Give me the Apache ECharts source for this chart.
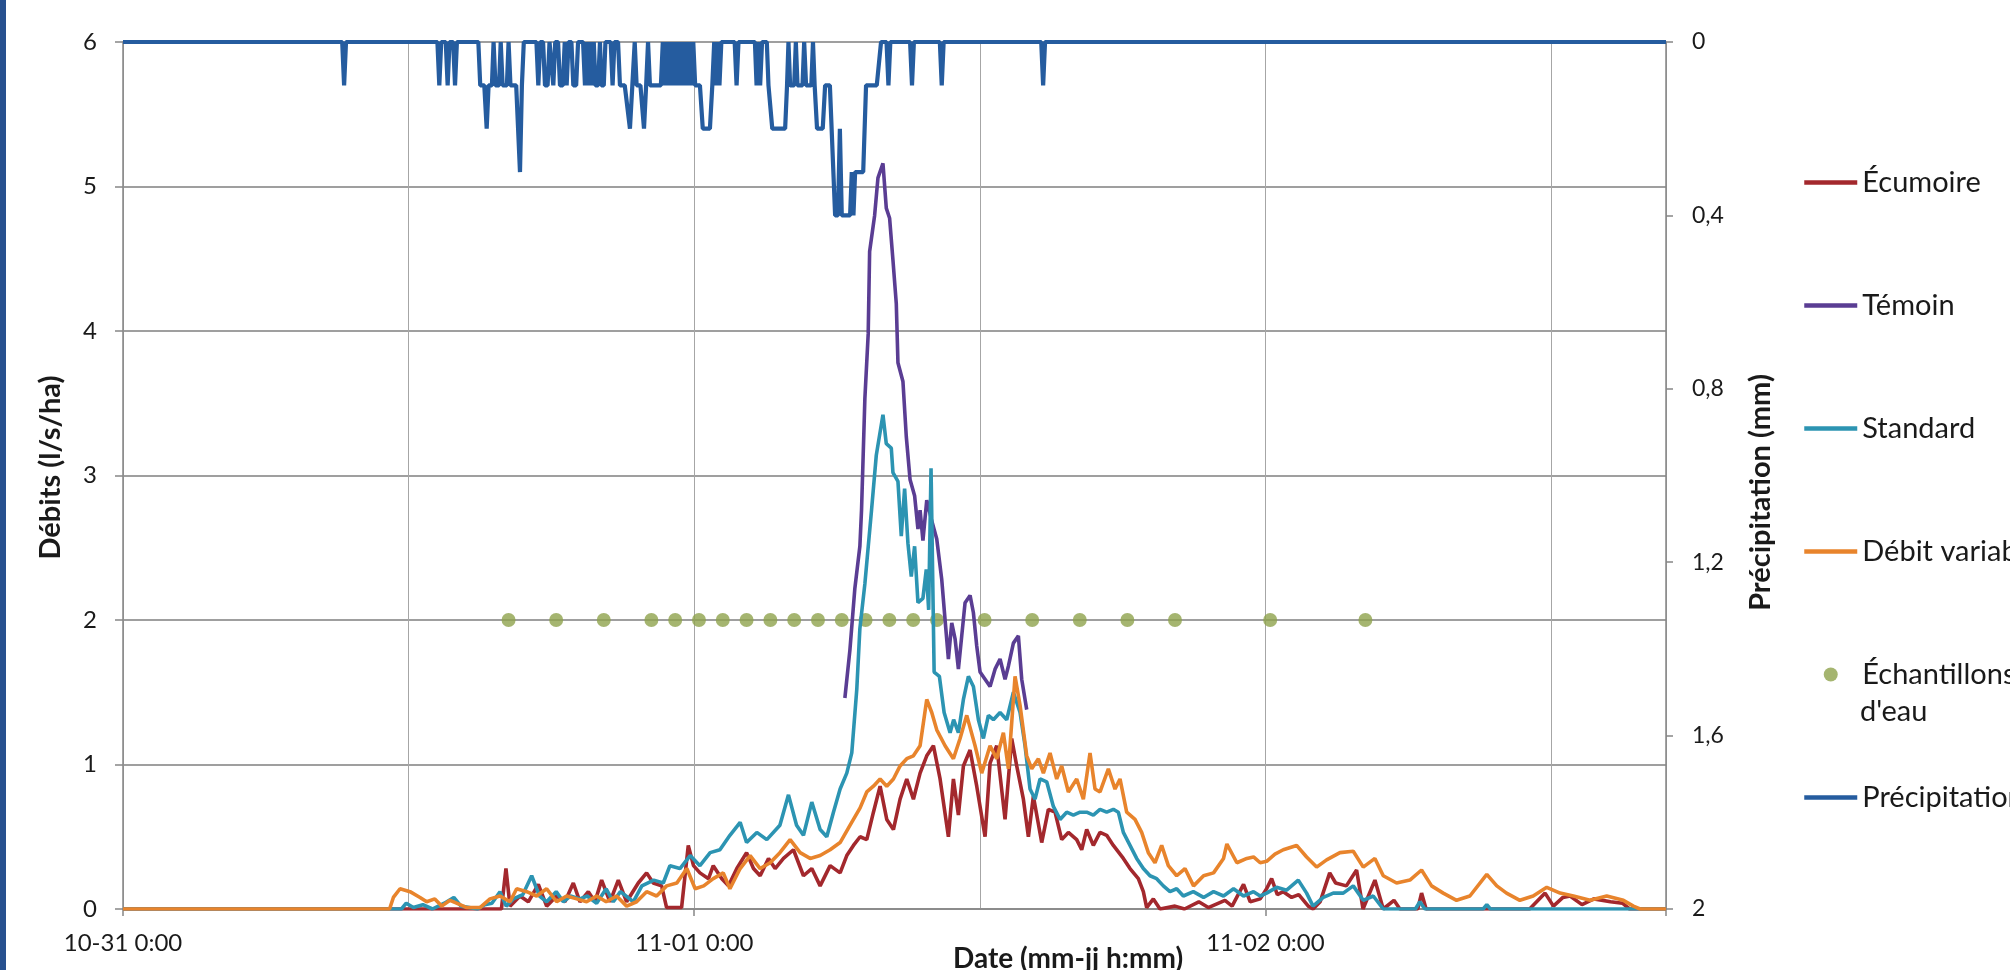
<!DOCTYPE html>
<html>
<head>
<meta charset="utf-8">
<script src="https://cdn.jsdelivr.net/npm/echarts@6.0.0/dist/echarts.min.js"></script>
<style>
html, body { margin: 0; padding: 0; background: #fff; }
#chart { width: 2010px; height: 970px; }
</style>
</head>
<body>
<div id="chart"></div>
<script>
// hours since 10-31 0:00, value in l/s/ha (or mm for precipitation)
const xTickLabels = ['10-31 0:00', '11-01 0:00', '11-02 0:00'];

const ecumoire = [
  [0,0],[15.9,0],[16.09,0.28],[16.26,0.02],[16.68,0.09],[17.03,0.05],[17.45,0.17],[17.8,0.02],[18.22,0.09],
  [18.57,0.05],[18.92,0.18],[19.2,0.05],[19.55,0.12],[19.83,0.05],[20.11,0.2],[20.46,0.05],[20.81,0.2],
  [21.16,0.05],[21.65,0.18],[22.0,0.25],[22.28,0.18],[22.63,0.16],[22.84,0.01],[23.47,0.01],[23.75,0.44],
  [23.97,0.3],[24.24,0.25],[24.6,0.21],[24.8,0.3],[25.16,0.21],[25.44,0.16],[25.79,0.28],[26.2,0.39],
  [26.49,0.28],[26.77,0.23],[27.12,0.35],[27.4,0.28],[27.75,0.35],[28.17,0.41],[28.59,0.23],[28.94,0.28],
  [29.29,0.16],[29.71,0.3],[30.13,0.25],[30.41,0.37],[30.69,0.44],[30.97,0.5],[31.25,0.48],[31.53,0.67],
  [31.81,0.85],[32.09,0.62],[32.37,0.55],[32.65,0.76],[32.93,0.9],[33.21,0.76],[33.49,0.94],[33.77,1.06],
  [34.05,1.13],[34.33,0.9],[34.68,0.5],[34.89,0.9],[35.1,0.65],[35.31,0.99],[35.59,1.1],[35.87,0.85],
  [36.22,0.5],[36.43,1.01],[36.71,1.13],[37.06,0.62],[37.34,1.18],[37.55,0.99],[37.83,0.76],[38.04,0.5],
  [38.25,0.78],[38.6,0.46],[38.88,0.69],[39.16,0.67],[39.44,0.48],[39.72,0.53],[40.07,0.48],[40.28,0.41],
  [40.49,0.55],[40.77,0.44],[41.05,0.53],[41.33,0.51],[41.61,0.44],[42.03,0.35],[42.31,0.28],[42.66,0.21],
  [42.87,0.12],[43.01,0.01],[43.29,0.07],[43.57,0],[44.2,0.02],[44.6,0],[45.2,0.05],[45.6,0.01],[46.3,0.06],
  [46.6,0.02],[47.08,0.17],[47.36,0.05],[47.78,0.07],[48.05,0.14],[48.26,0.21],[48.5,0.1],[48.75,0.12],
  [49.1,0.08],[49.4,0.1],[49.8,0.02],[50.0,0],[50.3,0.05],[50.7,0.25],[50.95,0.18],[51.4,0.16],[51.83,0.27],
  [52.1,0],[52.6,0.2],[52.95,0],[53.4,0.06],[53.65,0],[54.4,0],[54.56,0.11],[54.75,0],[59.1,0],[59.75,0.11],
  [60.1,0.02],[60.5,0.08],[60.8,0.09],[61.3,0.03],[61.8,0.07],[62.5,0.05],[63.0,0.04],[63.3,0],[64.83,0]
];

const temoin = [
  [30.33,1.46],[30.54,1.79],[30.75,2.22],[30.96,2.51],[31.03,2.76],[31.17,3.53],[31.31,3.98],[31.37,4.55],
  [31.58,4.8],[31.72,5.06],[31.93,5.16],[32.07,4.85],[32.21,4.78],[32.35,4.49],[32.49,4.19],[32.56,3.78],
  [32.77,3.65],[32.91,3.27],[33.07,2.97],[33.26,2.86],[33.4,2.63],[33.49,2.76],[33.61,2.55],[33.77,2.83],
  [33.96,2.7],[34.19,2.56],[34.4,2.28],[34.54,2.0],[34.68,1.73],[34.82,1.98],[34.96,1.87],[35.1,1.66],
  [35.24,1.89],[35.38,2.12],[35.59,2.17],[35.73,2.05],[35.87,1.82],[36.01,1.64],[36.22,1.59],[36.43,1.54],
  [36.64,1.66],[36.85,1.73],[37.06,1.59],[37.2,1.68],[37.41,1.84],[37.62,1.89],[37.76,1.59],[37.97,1.38]
];

const standard = [
  [0,0],[11.7,0],[11.9,0.04],[12.2,0.01],[12.6,0.03],[13.0,0],[13.5,0.04],[13.9,0.08],[14.2,0.02],[14.9,0],
  [15.2,0.03],[15.5,0.04],[15.84,0.12],[16.1,0.02],[16.4,0.07],[16.8,0.1],[17.17,0.23],[17.5,0.09],[17.8,0.05],
  [18.2,0.12],[18.5,0.05],[18.8,0.09],[19.2,0.07],[19.5,0.09],[19.9,0.04],[20.3,0.14],[20.6,0.05],[20.9,0.12],
  [21.44,0.05],[21.8,0.16],[22.3,0.2],[22.7,0.18],[22.98,0.3],[23.4,0.28],[23.83,0.37],[24.24,0.3],[24.67,0.39],
  [25.08,0.41],[25.5,0.51],[25.93,0.6],[26.2,0.46],[26.63,0.53],[27.05,0.48],[27.6,0.58],[27.96,0.79],
  [28.3,0.58],[28.59,0.51],[28.94,0.74],[29.29,0.55],[29.57,0.5],[29.85,0.67],[30.13,0.83],[30.41,0.94],
  [30.62,1.08],[30.83,1.52],[30.96,1.94],[31.17,2.25],[31.45,2.76],[31.65,3.14],[31.93,3.42],[32.07,3.22],
  [32.28,3.19],[32.35,3.02],[32.56,2.96],[32.7,2.58],[32.84,2.91],[32.98,2.53],[33.12,2.3],[33.26,2.51],
  [33.4,2.12],[33.61,2.15],[33.75,2.35],[33.85,2.07],[33.95,3.05],[34.08,1.64],[34.3,1.61],[34.5,1.36],
  [34.75,1.22],[34.9,1.31],[35.1,1.22],[35.31,1.45],[35.52,1.61],[35.73,1.54],[35.94,1.31],[36.15,1.18],
  [36.36,1.34],[36.57,1.31],[36.85,1.36],[37.13,1.31],[37.41,1.5],[37.69,1.36],[37.9,1.13],[38.11,0.83],
  [38.32,0.76],[38.53,0.9],[38.81,0.88],[39.09,0.71],[39.37,0.62],[39.65,0.67],[39.93,0.65],[40.21,0.67],
  [40.49,0.67],[40.77,0.65],[41.05,0.69],[41.33,0.67],[41.61,0.69],[41.82,0.67],[42.03,0.53],[42.31,0.44],
  [42.59,0.35],[42.87,0.28],[43.15,0.23],[43.43,0.21],[43.71,0.16],[43.99,0.12],[44.27,0.14],[44.55,0.09],
  [44.97,0.12],[45.4,0.08],[45.82,0.12],[46.24,0.09],[46.66,0.14],[47.08,0.09],[47.5,0.12],[47.78,0.09],
  [48.05,0.11],[48.47,0.15],[48.89,0.13],[49.38,0.2],[49.73,0.11],[50.0,0.02],[50.43,0.08],[50.85,0.11],
  [51.27,0.11],[51.69,0.16],[52.11,0.06],[52.53,0.09],[52.95,0],[54.3,0],[54.49,0.05],[54.7,0],[57.15,0],
  [57.3,0.03],[57.45,0],[64.83,0]
];

const debitVariable = [
  [0,0],[11.2,0],[11.36,0.08],[11.64,0.14],[12.06,0.12],[12.48,0.08],[12.76,0.05],[13.1,0.07],[13.39,0.02],
  [13.74,0.06],[14.16,0.03],[14.44,0.01],[15.0,0.01],[15.42,0.07],[15.84,0.09],[16.26,0.05],[16.54,0.14],
  [16.96,0.12],[17.38,0.09],[17.8,0.14],[18.22,0.05],[18.64,0.09],[19.06,0.07],[19.48,0.05],[19.9,0.09],
  [20.3,0.05],[20.74,0.09],[21.16,0.02],[21.58,0.05],[22.0,0.12],[22.42,0.09],[22.84,0.16],[23.27,0.18],
  [23.69,0.28],[24.04,0.14],[24.4,0.16],[24.8,0.21],[25.22,0.25],[25.5,0.14],[25.93,0.28],[26.35,0.37],
  [26.77,0.28],[27.19,0.32],[27.6,0.39],[28.03,0.48],[28.45,0.39],[28.87,0.35],[29.29,0.37],[29.71,0.41],
  [30.13,0.46],[30.55,0.58],[30.97,0.7],[31.25,0.81],[31.53,0.85],[31.81,0.9],[32.09,0.85],[32.37,0.9],
  [32.65,0.99],[32.93,1.04],[33.21,1.06],[33.49,1.13],[33.77,1.45],[33.98,1.36],[34.19,1.24],[34.54,1.13],
  [34.89,1.04],[35.17,1.18],[35.45,1.34],[35.8,1.13],[36.08,0.94],[36.43,1.13],[36.71,1.04],[36.99,1.22],
  [37.2,0.97],[37.48,1.61],[37.69,1.41],[37.97,1.06],[38.18,0.97],[38.46,1.04],[38.67,0.94],[38.95,1.08],
  [39.23,0.9],[39.44,0.99],[39.72,0.81],[40.07,0.9],[40.35,0.76],[40.63,1.08],[40.84,0.83],[41.05,0.81],
  [41.4,0.97],[41.68,0.83],[41.89,0.9],[42.17,0.67],[42.52,0.62],[42.8,0.53],[43.08,0.39],[43.36,0.32],
  [43.64,0.44],[43.92,0.3],[44.27,0.23],[44.62,0.28],[44.98,0.16],[45.4,0.23],[45.82,0.25],[46.24,0.35],
  [46.38,0.45],[46.8,0.32],[47.22,0.35],[47.5,0.36],[47.78,0.32],[48.05,0.33],[48.4,0.38],[48.75,0.41],
  [49.31,0.44],[49.73,0.36],[50.15,0.29],[50.57,0.34],[51.13,0.39],[51.69,0.4],[52.11,0.29],[52.6,0.35],
  [52.95,0.23],[53.51,0.18],[54.07,0.2],[54.56,0.27],[54.98,0.16],[55.47,0.11],[56.03,0.06],[56.59,0.09],
  [57.3,0.24],[57.72,0.16],[58.13,0.11],[58.69,0.06],[59.25,0.09],[59.82,0.15],[60.38,0.11],[60.94,0.09],
  [61.64,0.06],[62.34,0.09],[63.04,0.06],[63.46,0.02],[63.74,0],[64.83,0]
];

// water samples, all plotted at 2 l/s/ha
const sampleHours = [16.2,18.2,20.2,22.2,23.2,24.2,25.2,26.2,27.2,28.2,29.2,30.2,31.2,32.2,33.2,34.2,36.2,38.2,40.2,42.2,44.2,48.2,52.2];
const sampleLevel = 2;

const precipitation = [
  [0,0],[9.21,0],[9.29,0.1],[9.37,0],
  [13.21,0],[13.29,0.1],[13.37,0],[13.56,0],[13.64,0.1],[13.72,0],[13.87,0],[13.95,0.1],[14.03,0],
  [14.93,0],[15.01,0.1],[15.18,0.1],[15.28,0.2],[15.36,0.1],[15.5,0.1],[15.57,0],[15.65,0.1],[15.8,0.1],
  [15.87,0],[15.95,0.1],[16.13,0.1],[16.2,0],[16.28,0.1],[16.52,0.1],[16.68,0.3],[16.76,0.1],[16.84,0],
  [17.37,0],[17.45,0.1],[17.53,0],[17.65,0],[17.73,0.1],[17.84,0.1],[17.92,0],[18.0,0],[18.08,0.1],[18.16,0],
  [18.28,0],[18.36,0.1],[18.48,0.1],[18.56,0],[18.64,0.1],[18.72,0],[18.84,0],[18.92,0.1],[19.04,0.1],[19.12,0],
  [19.33,0],[19.41,0.1],[19.49,0],[19.55,0.1],[19.63,0],[19.7,0.1],[19.78,0],[19.85,0.1],[19.96,0.1],[20.04,0],
  [20.1,0.1],[20.2,0.1],[20.27,0],[20.49,0],[20.57,0.1],[20.65,0],[20.8,0],[20.88,0.1],[21.08,0.1],[21.3,0.2],
  [21.4,0.1],[21.5,0],[21.58,0.1],[21.74,0.1],[21.89,0.2],[21.98,0.1],[22.06,0],[22.14,0.1],[22.6,0.1],
  [22.68,0],[22.76,0.1],[22.84,0],[22.92,0.1],[23.0,0],[23.08,0.1],[23.16,0],[23.24,0.1],[23.32,0],[23.4,0.1],
  [23.48,0],[23.56,0.1],[23.64,0],[23.72,0.1],[23.8,0],[23.88,0.1],[23.96,0],[24.04,0.1],[24.24,0.1],
  [24.36,0.2],[24.66,0.2],[24.76,0.1],[24.84,0],[24.92,0.1],[25.0,0],[25.06,0.1],[25.14,0],
  [25.7,0],[25.78,0.1],[25.86,0],[26.55,0],[26.62,0.1],[26.7,0],[26.77,0.1],[26.85,0],
  [27.05,0],[27.12,0.1],[27.2,0.1],[27.28,0.2],[27.82,0.2],[27.9,0.1],[27.96,0],[28.03,0.1],[28.2,0.1],
  [28.27,0],[28.34,0.1],[28.55,0.1],[28.62,0],[28.7,0.1],[28.92,0.1],[28.99,0],[29.06,0.1],[29.16,0.2],
  [29.4,0.2],[29.5,0.1],[29.7,0.1],[29.92,0.4],[30.04,0.4],[30.12,0.2],[30.2,0.4],[30.55,0.4],[30.62,0.3],
  [30.69,0.4],[30.76,0.3],[31.1,0.3],[31.22,0.1],[31.67,0.1],[31.85,0],[32.08,0],[32.16,0.1],[32.24,0],
  [33.07,0],[33.15,0.1],[33.23,0],[34.32,0],[34.4,0.1],[34.48,0],[38.58,0],[38.66,0.1],[38.74,0],[64.83,0]
];

const seriesNames = ['Écumoire', 'Témoin', 'Standard', 'Débit variable', "Échantillons d'eau", 'Précipitation'];
const sampleName = seriesNames[4];

const font = 'Lato, "Liberation Sans", sans-serif';
const textColor = '#1a1a1a';
const axisGray = '#868686';

const chart = echarts.init(document.getElementById('chart'), null, { renderer: 'canvas' });

function flowLine(name, data, color) {
  return {
    name, type: 'line', data, xAxisIndex: 0, yAxisIndex: 0,
    symbol: 'none', showSymbol: false,
    lineStyle: { color, width: 3.6 }, itemStyle: { color }
  };
}

chart.setOption({
  animation: false,
  backgroundColor: '#fff',
  textStyle: { fontFamily: font },
  grid: { left: 123, top: 42, right: 344, bottom: 61 },
  legend: {
    orient: 'vertical', left: 1802, top: 168, itemGap: 94,
    itemWidth: 53, itemHeight: 14, padding: 0,
    textStyle: { fontFamily: font, fontSize: 29, color: textColor },
    data: seriesNames.map(n => n === sampleName
      ? { name: n }
      : { name: n, itemStyle: { opacity: 0 }, lineStyle: { width: 4.5 } }),
    formatter: name => name === sampleName ? 'Échantillons' : name
  },
  xAxis: [
    {
      type: 'value', min: 0, max: 64.83, interval: 12,
      axisLine: { show: false, onZero: false }, axisTick: { show: false }, axisLabel: { show: false },
      minorTick: { show: false },
      splitLine: { show: true, lineStyle: { color: '#a6a6a6', width: 1 } }
    },
    {
      type: 'value', min: 0, max: 64.83, interval: 24, position: 'bottom',
      axisLine: { show: true, onZero: false, lineStyle: { color: axisGray, width: 1.5 } },
      axisTick: { show: true, length: 7, lineStyle: { color: axisGray, width: 1.5 } },
      minorTick: { show: false },
      axisLabel: {
        margin: 22, fontSize: 24, color: textColor, fontFamily: font,
        formatter: v => (v % 24 === 0 ? xTickLabels[v / 24] || '' : '')
      },
      splitLine: { show: false }
    }
  ],
  yAxis: [
    {
      type: 'value', position: 'left', min: 0, max: 6, interval: 1,
      name: 'Débits (l/s/ha)', nameLocation: 'middle', nameGap: 58, nameMoveOverlap: false,
      nameTextStyle: { fontFamily: font, fontSize: 29, fontWeight: 'bold', color: textColor, padding: [0, 0, 0, 16] },
      axisLine: { show: true, onZero: false, lineStyle: { color: axisGray, width: 1.5 } },
      axisTick: { show: true, length: 8, lineStyle: { color: axisGray, width: 1.5 } },
      minorTick: { show: false },
      axisLabel: { margin: 26, fontSize: 24, color: textColor, fontFamily: font },
      splitLine: { show: true, lineStyle: { color: '#7f7f7f', width: 1.5 } }
    },
    {
      type: 'value', position: 'right', inverse: true, min: 0, max: 2, interval: 0.4,
      name: 'Précipitation (mm)', nameLocation: 'middle', nameGap: 80, nameMoveOverlap: false,
      nameTextStyle: { fontFamily: font, fontSize: 29, fontWeight: 'bold', color: textColor, padding: [0, 34, 0, 0] },
      axisLine: { show: true, onZero: false, lineStyle: { color: axisGray, width: 1.5 } },
      axisTick: { show: true, length: 7, lineStyle: { color: axisGray, width: 1.5 } },
      minorTick: { show: false },
      axisLabel: {
        margin: 26, fontSize: 23, color: textColor, fontFamily: font,
        formatter: v => String(+v.toFixed(1)).replace('.', ',')
      },
      splitLine: { show: false }
    }
  ],
  graphic: [
    { type: 'rect', left: 0, top: 0, shape: { width: 6, height: 970 }, style: { fill: '#27508f' }, silent: true },
    { type: 'text', left: 1860, top: 697, style: { text: "d'eau", font: '29px ' + font, fill: textColor }, silent: true },
    {
      type: 'text', left: 953, top: 945,
      style: { text: 'Date (mm-jj h:mm)', font: 'bold 28px ' + font, fill: textColor, align: 'center' },
      silent: true
    }
  ],
  series: [
    flowLine('Écumoire', ecumoire, '#a3282d'),
    flowLine('Témoin', temoin, '#5a3d93'),
    flowLine('Standard', standard, '#2c94b2'),
    flowLine('Débit variable', debitVariable, '#e8842c'),
    {
      name: sampleName, type: 'scatter', xAxisIndex: 0, yAxisIndex: 0,
      data: sampleHours.map(h => [h, sampleLevel]),
      symbol: 'circle', symbolSize: 14, itemStyle: { color: '#8ea24c' }
    },
    {
      name: 'Précipitation', type: 'line', xAxisIndex: 0, yAxisIndex: 1,
      data: precipitation, symbol: 'none', showSymbol: false,
      lineStyle: { color: '#255c9f', width: 4.2 }, itemStyle: { color: '#255c9f' }
    }
  ]
});
</script>
</body>
</html>
